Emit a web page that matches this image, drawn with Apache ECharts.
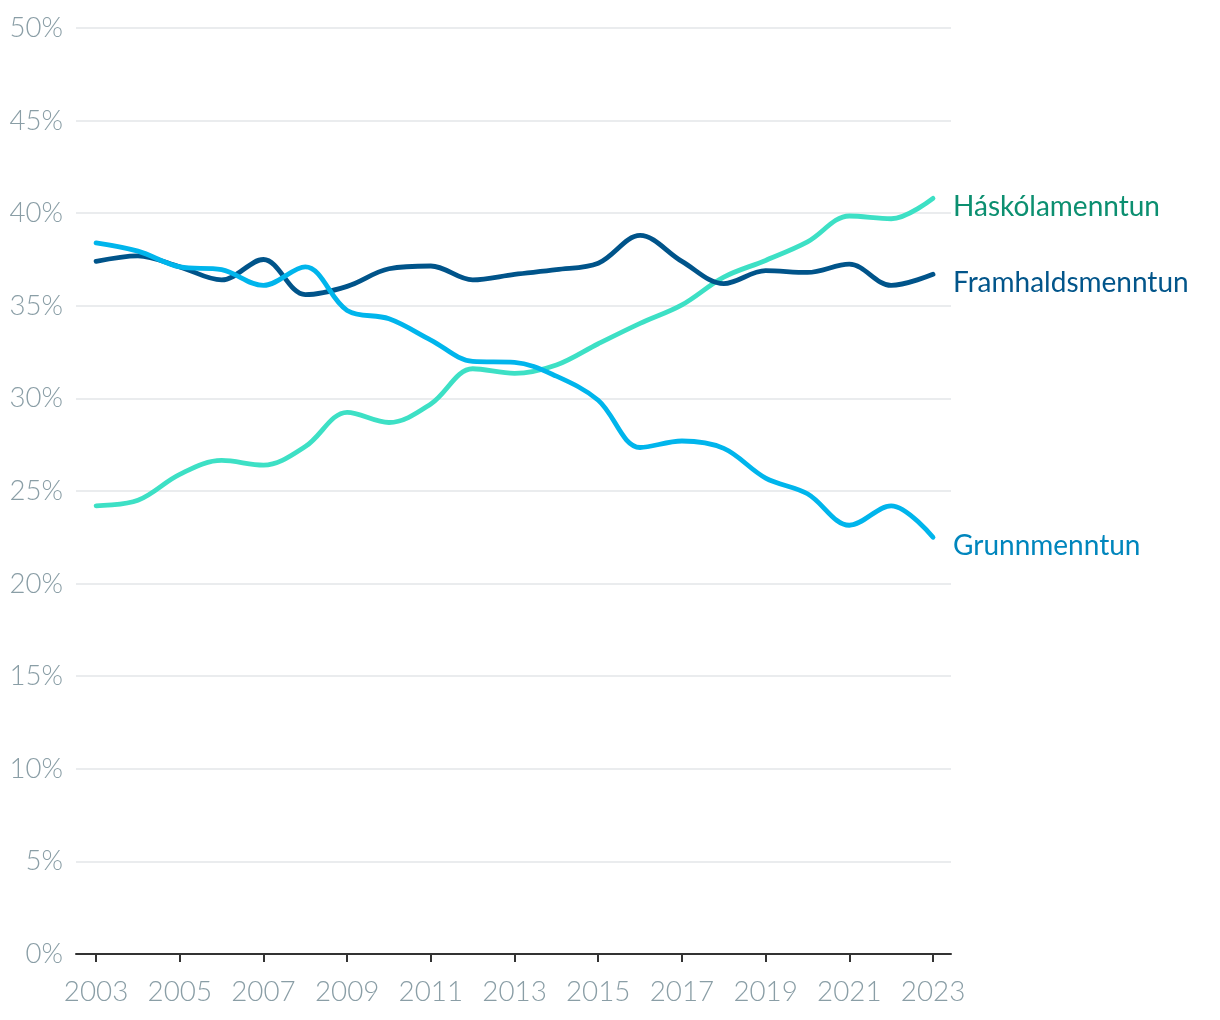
<!DOCTYPE html>
<html><head><meta charset="utf-8">
<script src="https://cdn.jsdelivr.net/npm/echarts@6/dist/echarts.min.js"></script>
<style>html,body{margin:0;padding:0;background:#fff}#c{width:1220px;height:1020px}</style>
</head><body><div id="c"></div>
<script>
const years = [2003,2004,2005,2006,2007,2008,2009,2010,2011,2012,2013,2014,2015,2016,2017,2018,2019,2020,2021,2022,2023];
const tickYears = [2003,2005,2007,2009,2011,2013,2015,2017,2019,2021,2023];
const haskola = [24.2,24.5,25.9,26.65,26.4,27.4,29.25,28.7,29.7,31.6,31.35,31.8,32.95,34.05,35.05,36.55,37.45,38.45,39.85,39.7,40.8];
const framhalds = [37.4,37.7,37.1,36.4,37.5,35.6,36.05,37.0,37.15,36.4,36.7,36.95,37.3,38.8,37.4,36.2,36.9,36.8,37.25,36.1,36.7];
const grunn = [38.4,37.95,37.1,36.95,36.1,37.1,34.75,34.3,33.15,32.0,31.95,31.2,29.9,27.35,27.7,27.3,25.7,24.85,23.15,24.2,22.5];
const names = ['Háskólamenntun','Framhaldsmenntun','Grunnmenntun'];
const lineColors = ['#3de0c5','#00548a','#00b5ec'];
const labelColors = ['#0c8f70','#02558a','#0086bd'];
const yTicks = [0,5,10,15,20,25,30,35,40,45,50];

const chart = echarts.init(document.getElementById('c'));
const seriesData = [haskola, framhalds, grunn];
chart.setOption({
  animation:false,
  grid:{left:76,right:269,top:28,bottom:66,containLabel:false},
  xAxis:{type:'value',min:2002.52,max:2023.43,
    axisLine:{show:true,lineStyle:{color:'#333',width:2}},
    axisTick:{show:true,customValues:tickYears,length:8,lineStyle:{color:'#333',width:2}},
    axisLabel:{customValues:tickYears,color:'#8a9ea6',fontFamily:'Lato',fontWeight:300,fontSize:27.8,margin:24,formatter:v=>String(v)},
    splitLine:{show:false}},
  yAxis:{type:'value',min:0,max:50,interval:5,
    axisLine:{show:false},axisTick:{show:false},
    axisLabel:{color:'#8a9ea6',fontFamily:'Lato',fontWeight:300,fontSize:27.6,margin:13,formatter:v=>v+'%'},
    splitLine:{lineStyle:{color:'#e3e6e9',width:1.5}}},
  series: seriesData.map((d,i)=>({
    name:names[i],type:'line',smooth:0.35,symbol:'none',
    data:years.map((y,j)=>[y,d[j]]),
    lineStyle:{color:lineColors[i],width:4.8,cap:'round'},
    endLabel:{show:true,formatter:names[i],color:labelColors[i],fontFamily:'Lato',fontSize:28,distance:20,offset:[0,9]}
  }))
});
</script></body></html>
